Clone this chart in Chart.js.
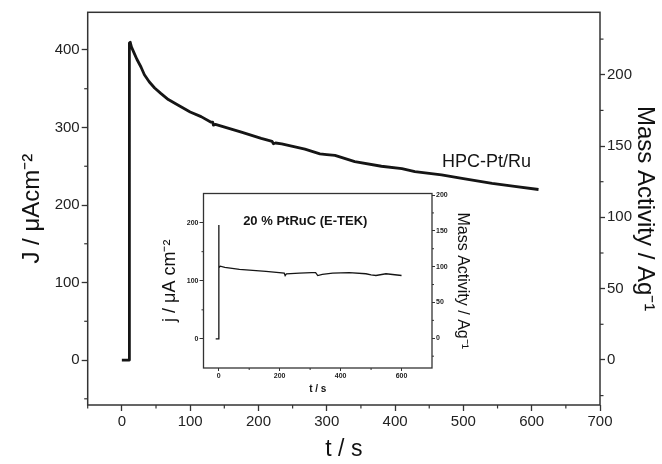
<!DOCTYPE html>
<html>
<head>
<meta charset="utf-8">
<script src="https://cdn.jsdelivr.net/npm/chart.js@4.4.1/dist/chart.umd.min.js"></script>
<style>
  html, body { margin: 0; padding: 0; background: #fff; }
  #wrap { position: relative; width: 662px; height: 464px; }
  #mainChart { position: absolute; left: 0; top: 0; }
  #insetChart { position: absolute; left: 150px; top: 185px; }
</style>
</head>
<body>
<div id="wrap">
  <canvas id="mainChart" width="662" height="464"></canvas>
  <canvas id="insetChart" width="330" height="215"></canvas>
</div>
<script>
// HPC-Pt/Ru chronoamperometry (main plot)
const hpcTime = [0, 10.5, 10.5, 11.3, 11.3, 12.3, 14, 18, 22, 28, 33, 40, 48, 57, 68, 82, 100, 116, 130, 133, 134, 137, 175, 204, 220, 222, 225, 234, 268, 290, 300, 312, 341, 380, 410, 429, 468, 500, 542, 575, 610];
const hpcCurrent = [0, 0, 204, 204, 409, 410, 404, 396, 388, 378, 368, 359, 351, 344, 336, 329, 320, 314, 307, 307, 303, 304, 294, 286, 282, 279, 280, 279, 272, 266, 265, 264, 256, 250, 247, 243, 239, 234, 228, 224, 220];

// 20 % PtRuC (E-TEK) inset curve
const etekTime = [-10, 0, 0, 0.6, 0.6, 5, 20, 68, 155, 215, 218, 222, 265, 305, 318, 325, 340, 374, 428, 483, 500, 516, 549, 600];
const etekCurrent = [0, 0, 196, 196, 122, 125, 123, 119.5, 116, 113, 109, 112, 113, 114, 114, 109, 111, 113, 114, 112, 110, 109, 112, 109];

// tick labels
const mainXTicks = [0, 100, 200, 300, 400, 500, 600, 700];
const mainXMinor = [-50, 50, 150, 250, 350, 450, 550, 650];
const mainYTicks = [0, 100, 200, 300, 400];
const mainYMinor = [-50, 50, 150, 250, 350];
const mainY2Ticks = [0, 50, 100, 150, 200];
const mainY2Minor = [-25, 25, 75, 125, 175, 225];

const insetXTicks = [0, 200, 400, 600];
const insetXMinor = [100, 300, 500];
const insetYTicks = [0, 100, 200];
const insetYMinor = [50, 150];
const insetY2Ticks = [0, 50, 100, 150, 200];
const insetY2Minor = [-25, 25, 75, 125, 175];

const ink = '#151515';
const axisInk = '#333';
Chart.defaults.font.family = '"Liberation Sans", Arial, sans-serif';
Chart.defaults.color = '#222';

function toPoints(xs, ys) {
  return xs.map((x, i) => ({ x: x, y: ys[i] }));
}

function fixedTicks(values) {
  return scale => { scale.ticks = values.map(v => ({ value: v })); };
}

// short minor ticks on the outside of each axis
const minorTicks = {
  id: 'minorTicks',
  afterDraw(chart, args, opts) {
    const ctx = chart.ctx;
    ctx.save();
    ctx.strokeStyle = axisInk;
    ctx.lineWidth = opts.width;
    Object.keys(opts.ticks).forEach(id => {
      const s = chart.scales[id];
      opts.ticks[id].forEach(v => {
        const p = s.getPixelForValue(v);
        ctx.beginPath();
        if (s.position === 'left') {
          ctx.moveTo(s.right, p); ctx.lineTo(s.right - opts.len, p);
        } else if (s.position === 'right') {
          ctx.moveTo(s.left, p); ctx.lineTo(s.left + opts.len, p);
        } else {
          ctx.moveTo(p, s.top); ctx.lineTo(p, s.top + opts.len);
        }
        ctx.stroke();
      });
    });
    ctx.restore();
  }
};

const frameBox = {
  id: 'frameBox',
  afterDraw(chart, args, opts) {
    const a = chart.chartArea;
    const ctx = chart.ctx;
    ctx.save();
    ctx.strokeStyle = axisInk;
    ctx.lineWidth = opts.width;
    ctx.strokeRect(a.left, a.top, a.right - a.left, a.bottom - a.top);
    ctx.restore();
  }
};

const textLabels = {
  id: 'textLabels',
  afterDatasetsDraw(chart, args, opts) {
    const ctx = chart.ctx;
    opts.items.forEach(it => {
      ctx.save();
      ctx.font = it.font;
      ctx.fillStyle = ink;
      ctx.textAlign = 'center';
      ctx.textBaseline = 'middle';
      ctx.fillText(it.text, chart.scales.x.getPixelForValue(it.t), chart.scales.y.getPixelForValue(it.j));
      ctx.restore();
    });
  }
};

function axisGrid(len, w) {
  return { drawOnChartArea: false, drawTicks: true, tickLength: len, tickColor: axisInk, tickWidth: w };
}

new Chart(document.getElementById('mainChart'), {
  type: 'line',
  data: {
    datasets: [{
      data: toPoints(hpcTime, hpcCurrent),
      borderColor: ink,
      borderWidth: 2.8,
      pointRadius: 0,
      tension: 0,
      borderJoinStyle: 'round',
      yAxisID: 'y'
    }]
  },
  options: {
    responsive: false,
    animation: false,
    layout: { padding: { top: 12.3, left: 0, right: 0, bottom: 0 } },
    plugins: {
      legend: { display: false },
      tooltip: { enabled: false },
      minorTicks: { ticks: { x: mainXMinor, y: mainYMinor, y2: mainY2Minor }, len: 3.5, width: 1.2 },
      frameBox: { width: 1.5 },
      textLabels: { items: [{ text: 'HPC-Pt/Ru', t: 534, j: 255, font: '18px "Liberation Sans", Arial, sans-serif' }] }
    },
    scales: {
      x: {
        type: 'linear', position: 'bottom', min: -50, max: 700,
        afterBuildTicks: fixedTicks(mainXTicks),
        afterFit: s => { s.height = 59; },
        grid: axisGrid(6, 1.3),
        border: { display: false },
        ticks: { autoSkip: false, maxRotation: 0, padding: 2, font: { size: 15 } },
        title: { display: true, text: 't / s', font: { size: 23, lineHeight: 1 }, padding: { top: 0, bottom: 3 }, color: '#111' }
      },
      y: {
        type: 'linear', position: 'left', min: -58, max: 448.6,
        afterBuildTicks: fixedTicks(mainYTicks),
        afterFit: s => { s.width = 87.7; },
        grid: axisGrid(6, 1.3),
        border: { display: false },
        ticks: { padding: 2, font: { size: 15 } },
        title: { display: true, text: 'J / μAcm⁻²', font: { size: 24, lineHeight: 1 }, padding: { top: 20, bottom: 0 }, color: '#111' }
      },
      y2: {
        type: 'linear', position: 'right', min: -31.6, max: 243.8,
        afterBuildTicks: fixedTicks(mainY2Ticks),
        afterFit: s => { s.width = 62; },
        grid: axisGrid(5, 1.3),
        border: { display: false },
        ticks: { padding: 2, font: { size: 15 } },
        title: { display: true, text: 'Mass Activity / Ag⁻¹', font: { size: 24, lineHeight: 1 }, padding: { top: 5, bottom: 0 }, color: '#111' }
      }
    }
  },
  plugins: [minorTicks, frameBox, textLabels]
});

new Chart(document.getElementById('insetChart'), {
  type: 'line',
  data: {
    datasets: [{
      data: toPoints(etekTime, etekCurrent),
      borderColor: ink,
      borderWidth: 1.3,
      pointRadius: 0,
      tension: 0,
      yAxisID: 'y'
    }]
  },
  options: {
    responsive: false,
    animation: false,
    layout: { padding: { top: 8.5, left: 0, right: 0, bottom: 0 } },
    plugins: {
      legend: { display: false },
      tooltip: { enabled: false },
      minorTicks: { ticks: { x: insetXMinor, y: insetYMinor, y2: insetY2Minor }, len: 2, width: 1 },
      frameBox: { width: 1.3 },
      textLabels: { items: [{ text: '20 % PtRuC (E-TEK)', t: 284, j: 202, font: 'bold 13px "Liberation Sans", Arial, sans-serif' }] }
    },
    scales: {
      x: {
        type: 'linear', position: 'bottom', min: -50, max: 700,
        afterBuildTicks: fixedTicks(insetXTicks),
        afterFit: s => { s.height = 32; },
        grid: axisGrid(3, 1),
        border: { display: false },
        ticks: { autoSkip: false, maxRotation: 0, padding: 1, font: { size: 7, weight: 'bold' } },
        title: { display: true, text: 't / s', font: { size: 10, weight: 'bold', lineHeight: 1 }, padding: { top: 0, bottom: 6 }, color: '#111' }
      },
      y: {
        type: 'linear', position: 'left', min: -50, max: 250,
        afterBuildTicks: fixedTicks(insetYTicks),
        afterFit: s => { s.width = 53.5; },
        grid: axisGrid(4, 1),
        border: { display: false },
        ticks: { padding: 1, font: { size: 7, weight: 'bold' } },
        title: { display: true, text: 'j / μA cm⁻²', font: { size: 18, lineHeight: 1 }, padding: { top: 11, bottom: 0 }, color: '#111' }
      },
      y2: {
        type: 'linear', position: 'right', min: -41.5, max: 202.1,
        afterBuildTicks: fixedTicks(insetY2Ticks),
        afterFit: s => { s.width = 48; },
        grid: axisGrid(3, 1),
        border: { display: false },
        ticks: { padding: 1, font: { size: 7, weight: 'bold' } },
        title: { display: true, text: 'Mass Activity / Ag⁻¹', font: { size: 16, lineHeight: 1 }, padding: { top: 10, bottom: 0 }, color: '#111' }
      }
    }
  },
  plugins: [minorTicks, frameBox, textLabels]
});
</script>
</body>
</html>
